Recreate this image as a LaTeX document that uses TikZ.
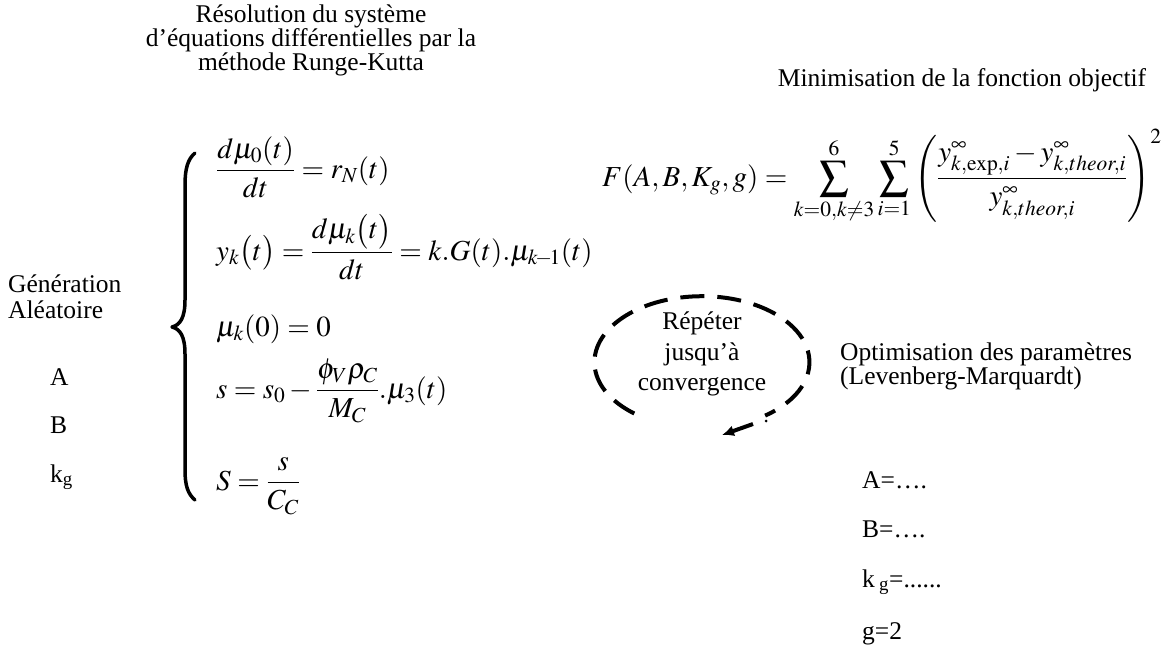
\documentclass[tikz,border=0pt]{standalone}
\usepackage{mathptmx}
\usepackage[no-math]{fontspec}
\setmainfont{Liberation Serif}
\usetikzlibrary{arrows.meta}
\begin{document}
\begin{tikzpicture}[x=1pt,y=-1pt,
  txt/.style={font=\fontsize{25.5}{25.5}\selectfont, inner sep=0pt},
  eq/.style={font=\fontsize{29}{34}\selectfont, inner sep=0pt, anchor=base west},
  bracepath/.style={line width=3.5pt, line cap=round, line join=round},
  loopline/.style={line width=4pt, dash pattern=on 24pt off 13pt},
  looparrow/.style={line width=4pt, -{Latex[length=12pt,width=11pt]}}
]
\useasboundingbox (0,0) rectangle (1172,651);

% titles
\node[txt, align=center, anchor=north, font=\fontsize{25.5}{24}\selectfont] (title) at (311,5) {Résolution du système\\d’équations différentielles par la\\méthode Runge-Kutta};
\node[txt, anchor=base] (minim) at (962,86) {Minimisation de la fonction objectif};

% left column
\node[txt, anchor=base west] (gen) at (8,292) {Génération};
\node[txt, anchor=base west] (alea) at (8,318) {Aléatoire};
\node[txt, anchor=base west] (pa) at (50,385) {A};
\node[txt, anchor=base west] (pb) at (50,433) {B};
\node[txt, anchor=base west] (pk) at (50,482) {k\textsubscript{g}};

% brace
\draw[bracepath] (195,153) .. controls (188,159) and (185,168) .. (185,185) -- (185,300)
  .. controls (185,318) and (180,325) .. (172,327)
  .. controls (180,329) and (185,336) .. (185,354) -- (185,470)
  .. controls (185,486) and (188,494) .. (195,500);

% equations
\node[eq] (e1) at (216,178) {$\displaystyle\frac{d\mu_0(t)}{dt} = r_N(t)$};
\node[eq] (e2) at (216,260) {$\displaystyle y_k\bigl(t\bigr) = \frac{d\mu_k\bigl(t\bigr)}{dt} = k.G(t).\mu_{k\!-\!1}(t)$};
\node[eq] (e3) at (216,336) {$\displaystyle \mu_k(0) = 0$};
\node[eq] (e4) at (216,398) {$\displaystyle s = s_0 - \frac{\phi_V\rho_C}{M_C}.\mu_3(t)$};
\node[eq] (e5) at (216,490) {$\displaystyle S = \frac{s}{C_C}$};

% objective function
\node[eq] (fobj) at (602,186) {$\displaystyle F(A,B,K_g,g) = \sum_{k=0,k\ne3}^{6}\sum_{i=1}^{5}\left(\frac{y^{\infty}_{k,\mathrm{exp},i}-y^{\infty}_{k,theor,i}}{y^{\infty}_{k,theor,i}}\right)^{2}$};

% loop
\node[txt, align=center, font=\fontsize{25.5}{30.5}\selectfont] (rep) at (702,354) {Répéter\\jusqu’à\\convergence};
\draw[loopline] (634.3,413.5) arc[start angle=129, end angle=414, x radius=107.5, y radius=66];
\coordinate (dot) at (766,421);
\fill (dot) circle (1.5);
\coordinate (arrs) at (753,424);
\coordinate (arre) at (722,435);
\draw[looparrow] (arrs) -- (arre);

% right column
\node[txt, anchor=base west] (opt) at (840,360) {Optimisation des paramètres};
\node[txt, anchor=base west] (lm) at (840,384) {(Levenberg-Marquardt)};
\node[txt, anchor=base west] (ra) at (862,488) {A=….};
\node[txt, anchor=base west] (rb) at (862,537) {B=….};
\node[txt, anchor=base west] (rk) at (862,587) {k\,\textsubscript{g}=......};
\node[txt, anchor=base west] (rg) at (862,639) {g=2};
\end{tikzpicture}
\end{document}
